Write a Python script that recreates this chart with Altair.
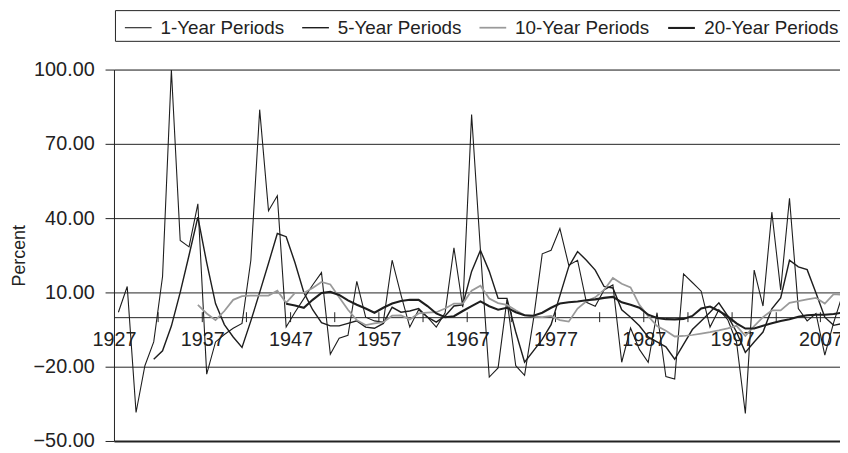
import altair as alt
import pandas as pd

# ---------------- data ----------------
series_names = ["1-Year Periods", "5-Year Periods", "10-Year Periods", "20-Year Periods"]

one_year_start = 1927
one_year = [
    2, 12.4, -38.5, -19.6, -10, 16.4, 99.8, 31, 28.4, 45.8,
    -23, -10, -7, -4.5, -2.5, 23, 83.8, 43, 49, -4,
    2, 7.5, 13, 18, -15, -8.5, -7.3, 14.5, 0, -1.5,
    -2, 23, 9, -4, 3, 0, -4, 1.8, 28, 4,
    81.8, 27, -24.2, -20.5, 7, -19.6, -23.5, -1, 25.6, 27,
    35.8, 21, 23, 6, 4.4, 11, 13, -18.2, -4.4, -13,
    -18.2, 1.8, -24, -25, 17.5, 14, 10.5, -4, 3, -1,
    -10, -38.9, 19, 4.5, 42.4, 11, 48, 3.5, -1.5, 1.5,
    -15.3, -2.2, 9,
]

five_year_start = 1931
five_year = [
    -17, -13.6, -3.6, 10, 25, 40.4, 22, 5.5, -3, -8,
    -12.2, -1.5, 10, 21.8, 33.8, 32.5, 22, 10, 3, -2.2,
    -3.5, -3.5, -2.5, -1.5, -4, -4.5, -2.5, 4, 2, 2.5,
    3.5, 0, -2, 0.5, 4.5, 5, 18.5, 27, 18.5, 7.6,
    7.6, -6, -18.2, -13.6, -9, -3, 8.7, 20.4, 26.5, 23,
    19, 12.4, 11.8, 3, 0, -3.5, -8, -10, -12, -17,
    -11, -5, -1.5, 2, 5.8, 0.5, -6, -14.2, -10, -6,
    3.4, 7.8, 23, 20.3, 19.2, 9.8, 0, -3.3, -2.5,
]

ten_year_start = 1936
ten_year = [
    5, 1.5, -1.2, 2.5, 7, 8.5, 8.7, 8.7, 8.7, 10.7,
    5.8, 9.8, 9.8, 11.8, 14.2, 13.2, 8, 3, -1.2, -3.2,
    -2.5, -2, 0.6, 0.7, -0.9, 1.5, 1.8, 2, 3.5, 5.5,
    5.5, 10.7, 12.7, 7.5, 5.7, 5, 2.8, 0.8, 0.2, 0,
    0.5, -1.2, -1.8, 3.5, 6.4, 8, 11, 15.8, 13.5, 12,
    5, 0.4, -3.6, -5.5, -7.8, -7.6, -7.2, -6.6, -6, -5.3,
    -4.5, -3.5, -7.6, -3.6, 0, 2.7, 2.7, 5.8, 6.5, 7.2,
    7.8, 5.5, 9.3, 9,
]

twenty_year_start = 1946
twenty_year = [
    5.4, 4.7, 3.8, 7, 9.8, 10.2, 9, 6.8, 5, 3.5,
    1.8, 3.8, 5.5, 6.5, 7, 7, 4.5, 1.5, 0, 0.4,
    2.5, 4.5, 6.4, 4.4, 3, 3.8, 2, 0.8, 0.6, 1.8,
    3.8, 5.5, 6, 6.3, 6.8, 7.2, 7.8, 8.2, 6, 5,
    3.8, 1, -0.3, -0.8, -0.9, -0.7, 0.5, 3.5, 4.3, 2.5,
    0.3, -2.5, -4.6, -4.6, -3.5, -2.5, -1.5, -0.8, 0.2, 0.8,
    1, 1, 1.3, 1.8,
]

label_years = [1927, 1937, 1947, 1957, 1967, 1977, 1987, 1997, 2007]
tick_years = [1932, 1937, 1942, 1947, 1952, 1957, 1962, 1967, 1972, 1977,
              1982, 1987, 1992, 1997, 2002, 2007]
y_ticks = [-50, -20, 10, 40, 70, 100]

# ---------------- build table ----------------
rows = []
for name, start, vals in [
    (series_names[0], one_year_start, one_year),
    (series_names[1], five_year_start, five_year),
    (series_names[2], ten_year_start, ten_year),
    (series_names[3], twenty_year_start, twenty_year),
]:
    for i, v in enumerate(vals):
        rows.append({"series": name, "year": start + i, "value": v})
df = pd.DataFrame(rows)
tick_df = pd.DataFrame({"tick": tick_years})

# ---------------- layout / style ----------------
PLOT_W = 733
PLOT_H = 375
Y_MIN, Y_MAX = -50, 100
X_MIN, X_MAX = 1927, 2009.22
FONT = "Liberation Sans"
INK = "#222222"

zero_offset = -PLOT_H * (0 - Y_MIN) / (Y_MAX - Y_MIN)

x_scale = alt.Scale(domain=[X_MIN, X_MAX], nice=False, zero=False)
y_scale = alt.Scale(domain=[Y_MIN, Y_MAX], nice=False, zero=False)

legend = alt.Legend(
    title=None, orient="none", legendX=1, legendY=-60, direction="horizontal",
    symbolType="stroke", symbolSize=729, symbolOffset=6,
    labelFontSize=19, labelOffset=8,
    columnPadding=11, padding=3, strokeColor=INK, fillColor="white",
    labelColor=INK, labelFont=FONT, labelLimit=0,
)

lines = alt.Chart(df).transform_calculate(
    t="datum.year + 0.5"
).mark_line(clip=True).encode(
    x=alt.X("t:Q", scale=x_scale, axis=alt.Axis(
        values=label_years, format="d", offset=zero_offset, ticks=False, tickSize=0,
        labelPadding=13, labelFontSize=20, labelColor=INK, labelFont=FONT,
        domainColor=INK, domainWidth=1, grid=False, title=None, labelFlush=False,
    )),
    y=alt.Y("value:Q", scale=y_scale, axis=alt.Axis(
        values=y_ticks, format=".2f", title="Percent",
        titleFontSize=18, titleFontWeight="normal", titleColor=INK, titleFont=FONT,
        titleAngle=270, titleX=-95, titleY=PLOT_H / 2, titleAlign="center",
        titleBaseline="middle",
        labelFontSize=20, labelColor=INK, labelFont=FONT, labelPadding=11,
        tickSize=9, tickColor=INK, domainColor=INK, domainWidth=1,
        grid=True, gridColor=INK,
        gridWidth={"condition": {"test": "datum.value === -50", "value": 2.2}, "value": 1},
    )),
    color=alt.Color("series:N", scale=alt.Scale(
        domain=series_names, range=["#1e1e1e", "#1e1e1e", "#9a9a9a", "#1e1e1e"]),
        legend=legend, sort=series_names),
    strokeWidth=alt.StrokeWidth("series:N", scale=alt.Scale(
        domain=series_names, range=[1.1, 2.1, 2.1, 3.0]),
        legend=legend, sort=series_names),
    detail="series:N",
)

ticks = alt.Chart(tick_df).mark_rule(color=INK, strokeWidth=1).encode(
    x=alt.X("tick:Q", scale=x_scale),
    y=alt.datum(-2, scale=y_scale),
    y2=alt.datum(2),
)

chart = alt.layer(ticks, lines).properties(
    width=PLOT_W, height=PLOT_H,
    autosize=alt.AutoSizeParams(type="none"),
    padding={"left": 107, "top": 60, "right": 0, "bottom": 12},
).configure_view(stroke=None).configure(font=FONT)

chart.save("out.html", embed_options={"renderer": "svg", "actions": False})
